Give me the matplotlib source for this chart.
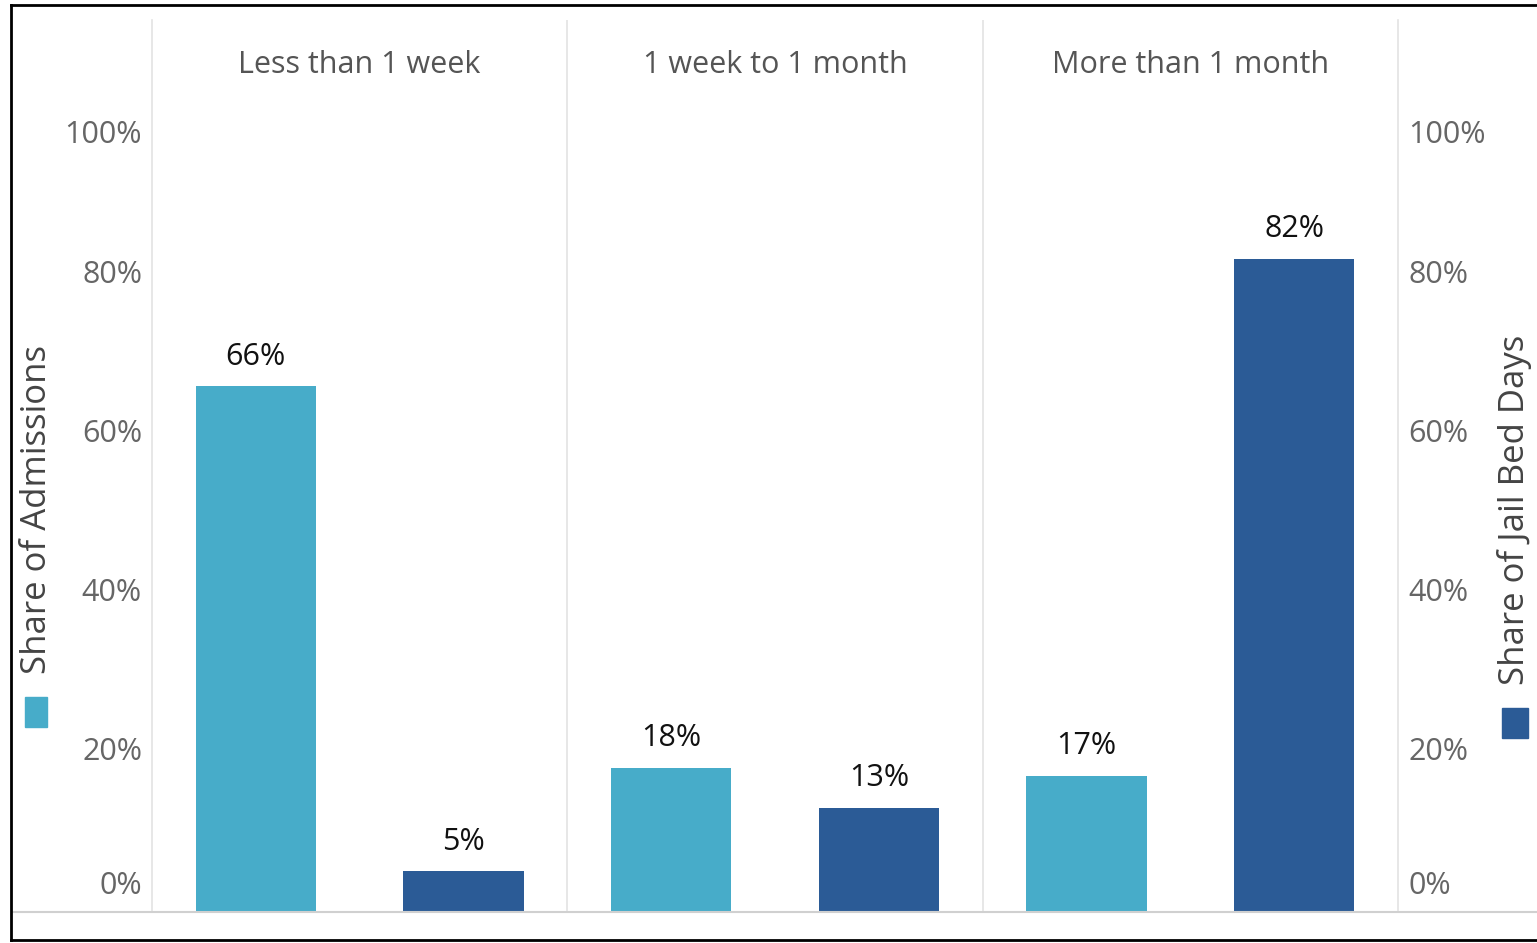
import matplotlib.pyplot as plt
from matplotlib.patches import Rectangle
from matplotlib.lines import Line2D
from matplotlib.transforms import offset_copy

# Data
groups = ["Less than 1 week", "1 week to 1 month", "More than 1 month"]
admissions = [66, 18, 17]
bed_days = [5, 13, 82]
ticks = [0, 20, 40, 60, 80, 100]
tick_labels = ["0%", "20%", "40%", "60%", "80%", "100%"]

light = "#47acc9"
dark = "#2b5b96"
grid = "#e3e3e3"
font = "Open Sans"

fig = plt.figure(figsize=(15.37, 9.43), dpi=100)
ax = fig.add_axes([152 / 1537, 32 / 943, (1398 - 152) / 1537, (911 - 20) / 943])
ax.set_xlim(0, 6)
ax.set_ylim(0, 112)

# Bars: two per group
width = 0.58
for i in range(len(groups)):
    x1 = 2 * i + 0.5
    x2 = 2 * i + 1.5
    ax.bar(x1, admissions[i], width=width, color=light, zorder=3)
    ax.bar(x2, bed_days[i], width=width, color=dark, zorder=3)
    ax.text(x1, admissions[i] + 1.8, f"{admissions[i]}%", ha="center", va="bottom",
            fontsize=22, color="#111111", family=font)
    ax.text(x2, bed_days[i] + 1.8, f"{bed_days[i]}%", ha="center", va="bottom",
            fontsize=22, color="#111111", family=font)
    ax.text(2 * i + 1, 106.3, groups[i], ha="center", va="center",
            fontsize=22, color="#555555", family=font)

# Panel dividers
for xv in [2, 4]:
    ax.axvline(xv, color=grid, lw=1.2, zorder=1)

for s in ["top", "bottom"]:
    ax.spines[s].set_visible(False)
for s in ["left", "right"]:
    ax.spines[s].set_color(grid)
    ax.spines[s].set_linewidth(1.2)

ax.set_xticks([])
ax.set_yticks([])

# Tick labels on both sides; the end labels are nudged inward as in the original
ytrans = ax.get_yaxis_transform()
for v, lab in zip(ticks, tick_labels):
    dy = 25 if v == 0 else (-20 if v == 100 else 0)
    tl = offset_copy(ytrans, fig=fig, x=-10, y=dy, units="dots")
    tr = offset_copy(ytrans, fig=fig, x=10, y=dy, units="dots")
    ax.text(0, v, lab, transform=tl, ha="right", va="center",
            fontsize=22, color="#666666", family=font)
    ax.text(1, v, lab, transform=tr, ha="left", va="center",
            fontsize=22, color="#666666", family=font)

# Axis titles with colour keys
fig.text(37 / 1537, 1 - 510 / 943, "Share of Admissions", rotation=90, ha="center",
         va="center", fontsize=25, color="#444444", family=font)
fig.add_artist(Rectangle((25 / 1537, 1 - 727 / 943), 22 / 1537, 30 / 943,
                         transform=fig.transFigure, color=light))
fig.text(1515 / 1537, 1 - 510 / 943, "Share of Jail Bed Days", rotation=90, ha="center",
         va="center", fontsize=25, color="#444444", family=font)
fig.add_artist(Rectangle((1502 / 1537, 1 - 738 / 943), 26 / 1537, 30 / 943,
                         transform=fig.transFigure, color=dark))

# Baseline across the figure
fig.add_artist(Line2D([12 / 1537, 1], [1 - 912 / 943] * 2, transform=fig.transFigure,
                      color="#d0d0d0", lw=1.5))

# Outer frame (left, top, bottom)
fig.add_artist(Line2D([11 / 1537, 11 / 1537], [1 - 940 / 943, 1 - 5 / 943],
                      transform=fig.transFigure, color="black", lw=2))
fig.add_artist(Line2D([11 / 1537, 1], [1 - 5 / 943] * 2,
                      transform=fig.transFigure, color="black", lw=2))
fig.add_artist(Line2D([11 / 1537, 1], [1 - 940 / 943] * 2,
                      transform=fig.transFigure, color="black", lw=2))

fig.savefig("out.png", dpi=100)
